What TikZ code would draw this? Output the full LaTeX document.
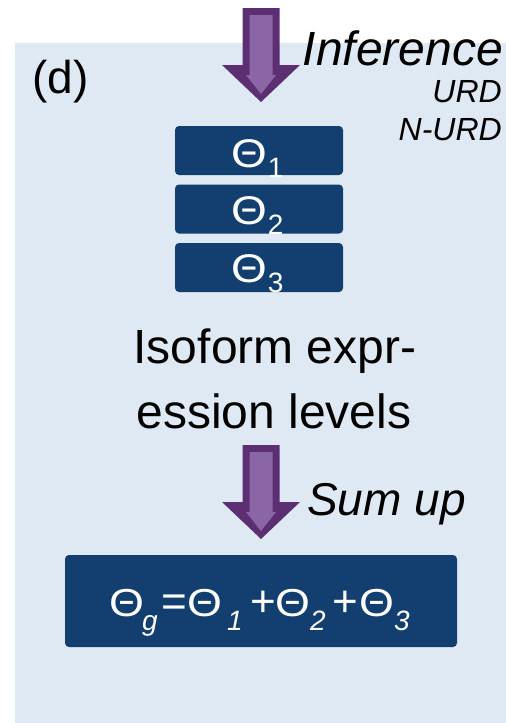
\documentclass[tikz,border=0pt]{standalone}
\usepackage{fontspec}
\setmainfont{Liberation Sans}
\usepackage{graphicx}

\definecolor{panelblue}{HTML}{DFE9F4}
\definecolor{navy}{HTML}{123E70}
\definecolor{arrowdark}{HTML}{5C2F73}
\definecolor{arrowlight}{HTML}{8B66A7}

\newcommand{\fsz}[1]{\fontsize{#1}{#1}\selectfont}
% a rounder, widened capital theta
\newcommand{\wtheta}[1]{\scalebox{1.15}[1]{\fsz{#1}Θ}}
% Theta with an upright subscript, as printed in the stacked boxes
\newcommand{\thetasub}[1]{\wtheta{40}\hspace{1pt}\raisebox{-10pt}{\fsz{28}#1}}
% one glyph of the sum formula, in a box of fixed advance
\newcommand{\gl}[2]{\makebox[#1pt][l]{#2}}
\newcommand{\fth}{\wtheta{39}}
\newcommand{\fop}[1]{\fsz{44}#1}
\newcommand{\isub}[1]{\raisebox{-14pt}{\fsz{28}\itshape #1}}

\begin{document}
\begin{tikzpicture}[x=1pt,y=-1pt]
\tikzset{
  valbox/.style={fill=navy, rounded corners=4pt, minimum width=168pt,
    minimum height=49pt, inner sep=0pt},
  lbl/.style={text=black, inner sep=0pt},
  whitetxt/.style={text=white, inner sep=0pt},
  blockarrow/.pic={
    \fill[arrowdark] (-18.5,0) -- (18.5,0) -- (18.5,57) -- (39,57)
      -- (0,94) -- (-39,57) -- (-18.5,57) -- cycle;
    \fill[arrowlight] (-11.5,7) -- (11.5,7) -- (11.5,67) -- (15,67)
      -- (0,86) -- (-15,67) -- (-11.5,67) -- cycle;
  }
}

% page and light panel
\fill[white] (0,0) rectangle (506,723);
\fill[panelblue] (15,43) rectangle (506,723);

% panel label
\node[lbl, anchor=base west, font=\fsz{46}] (lab) at (32,93) {(d)};

% inference step
\pic at (261,8) {blockarrow};
\node[lbl, anchor=base east, font=\fsz{48}\itshape] (inf) at (503,65) {Inference};
\node[lbl, anchor=base east, font=\fsz{32}\itshape] (urd) at (502,102) {URD};
\node[lbl, anchor=base east, font=\fsz{32}\itshape] (nurd) at (502,140) {N-URD};

% isoform values
\node[valbox] (b1) at (259,150.5) {};
\node[valbox] (b2) at (259,209) {};
\node[valbox] (b3) at (259,267.5) {};
\node[whitetxt, anchor=base west] (t1) at (231,167) {\thetasub{1}};
\node[whitetxt, anchor=base west] (t2) at (231,224) {\thetasub{2}};
\node[whitetxt, anchor=base west] (t3) at (231,282) {\thetasub{3}};

% caption of the stack
\node[lbl, anchor=base, font=\fsz{48}] (iso1) at (275,363) {Isoform expr-};
\node[lbl, anchor=base, font=\fsz{48}] (iso2) at (274,428) {ession levels};

% summation step
\pic at (261,445) {blockarrow};
\node[lbl, anchor=base west, font=\fsz{46}\itshape] (sum) at (307,515) {Sum up};

% gene level total
\node[valbox, minimum width=392pt, minimum height=92pt] (gb) at (261,601) {};
\node[whitetxt, anchor=base west] (gt) at (109,616) {%
  \gl{33}{\fth}\gl{19}{\isub{g}}\gl{26}{\fop{=}}%
  \gl{40}{\fth}\gl{23}{\isub{1}}\gl{25}{\fop{+}}%
  \gl{35}{\fth}\gl{22}{\isub{2}}\gl{27}{\fop{+}}%
  \gl{35}{\fth}\gl{20}{\isub{3}}};
\end{tikzpicture}
\end{document}
